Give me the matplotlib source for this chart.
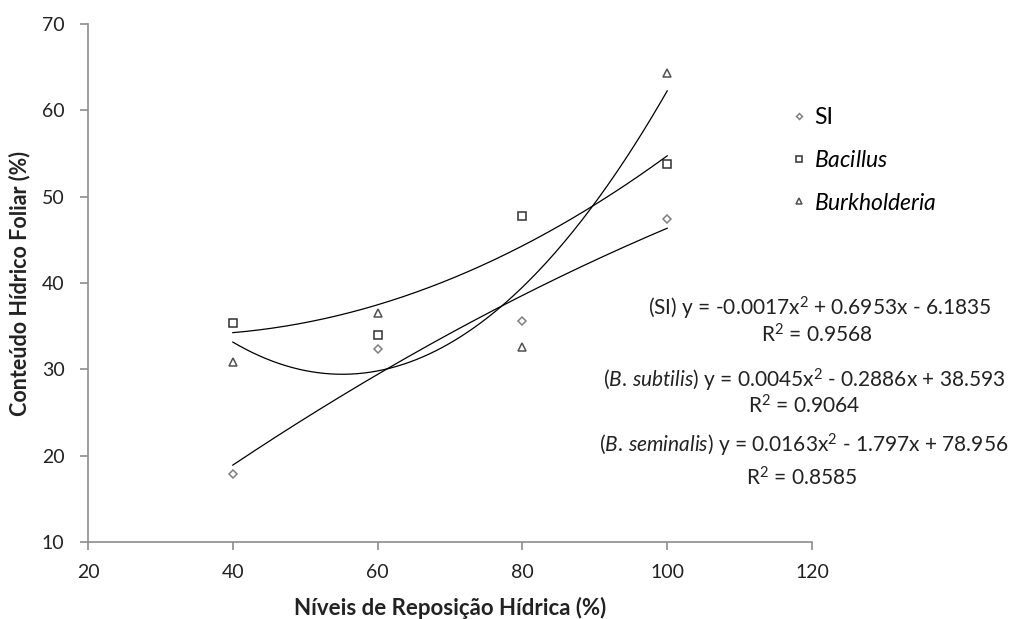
import numpy as np
import matplotlib.pyplot as plt

# leaf water content (%) at each irrigation replacement level (%)
niveis = [40, 60, 80, 100]
si = [17.9, 32.4, 35.6, 47.4]
bacillus = [35.4, 34.0, 47.8, 53.8]
burkholderia = [30.8, 36.5, 32.6, 64.3]

# second-order trendline coefficients (a, b, c) and R²
coef_si = (-0.0017, 0.6953, -6.1835)
coef_bac = (0.0045, -0.2886, 38.593)
coef_bur = (0.0163, -1.797, 78.956)
r2 = [0.9568, 0.9064, 0.8585]

plt.rcParams['font.family'] = 'Lato'
plt.rcParams['mathtext.fontset'] = 'custom'
plt.rcParams['mathtext.rm'] = 'Lato'
plt.rcParams['mathtext.it'] = 'Lato:italic'

fig = plt.figure(figsize=(10.14, 6.19), dpi=100)
ax = fig.add_axes([0.0868, 0.1244, 0.714, 0.8368])

ax.plot(niveis, si, linestyle='none', marker='D', ms=4, mfc='white',
        mec='#808080', mew=1.1, label='SI')
ax.plot(niveis, bacillus, linestyle='none', marker='s', ms=6, mfc='white',
        mec='#303030', mew=1.1, label=r'$\mathit{Bacillus}$')
ax.plot(niveis, burkholderia, linestyle='none', marker='^', ms=6, mfc='white',
        mec='#505050', mew=1.1, label=r'$\mathit{Burkholderia}$')

xs = np.linspace(40, 100, 200)
for a, b, c in (coef_si, coef_bac, coef_bur):
    ax.plot(xs, a * xs**2 + b * xs + c, color='black', lw=0.9)

ax.set_xlim(20, 120)
ax.set_ylim(10, 70)
ax.set_xticks(range(20, 121, 20))
ax.set_yticks(range(10, 71, 10))
for s in ('top', 'right'):
    ax.spines[s].set_visible(False)
for s in ('left', 'bottom'):
    ax.spines[s].set_color('#8c8c8c')
    ax.spines[s].set_linewidth(1.2)
ax.tick_params(colors='#8c8c8c', length=6, width=1.2, labelsize=14,
               labelcolor='#222222')
ax.tick_params(axis='x', pad=10)
ax.tick_params(axis='y', pad=11)

ax.set_xlabel('Níveis de Reposição Hídrica (%)', fontsize=16,
              fontweight='bold', color='#222222', labelpad=11)
ax.set_ylabel('Conteúdo Hídrico Foliar (%)', fontsize=15.5,
              fontweight='bold', color='#222222', labelpad=8)

fig.legend(loc='upper left', bbox_to_anchor=(0.772, 0.842), frameon=False,
           prop={'size': 16.5}, labelspacing=0.95, handlelength=0.6,
           handletextpad=0.35, markerscale=0.75, borderaxespad=0)

eq_style = dict(ha='center', va='center', fontsize=15, color='#222222')
fig.text(0.808, 1 - 308 / 619,
         '(SI) y = -0.0017x$^2$ + 0.6953x - 6.1835', **eq_style)
fig.text(0.805, 1 - 335 / 619, f'R$^2$ = {r2[0]}', **eq_style)
fig.text(0.793, 1 - 380 / 619,
         r'($\mathit{B.\,subtilis}$) y = 0.0045x$^2$ - 0.2886x + 38.593',
         **eq_style)
fig.text(0.793, 1 - 406 / 619, f'R$^2$ = {r2[1]}', **eq_style)
fig.text(0.793, 1 - 445 / 619,
         r'($\mathit{B.\,seminalis}$) y = 0.0163x$^2$ - 1.797x + 78.956',
         **eq_style)
fig.text(0.791, 1 - 478 / 619, f'R$^2$ = {r2[2]}', **eq_style)

fig.savefig('out.png', dpi=100)
